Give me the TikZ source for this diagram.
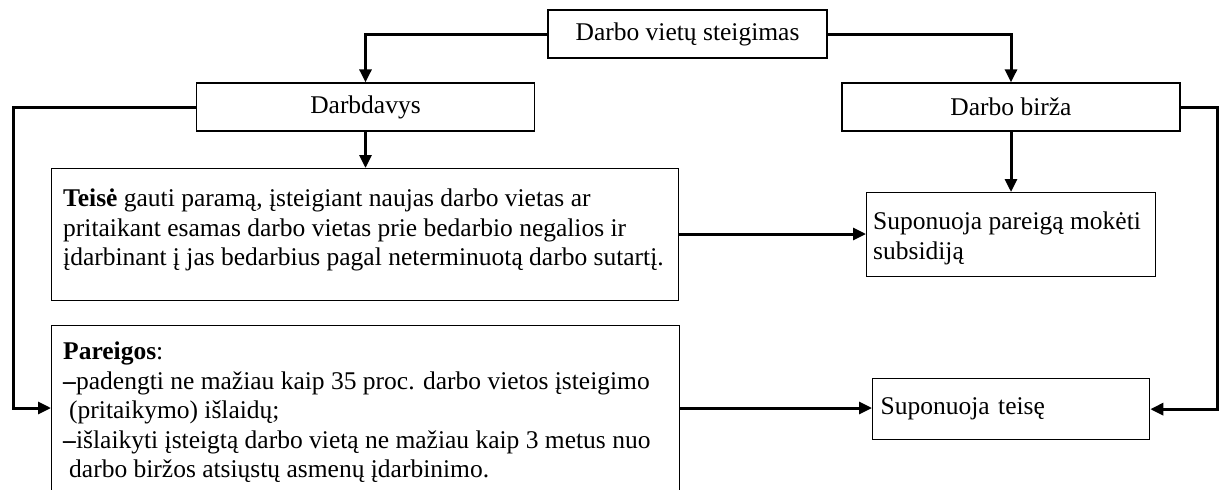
\documentclass[tikz,border=0pt]{standalone}
\usepackage{fontspec}
\setmainfont{Liberation Serif}
\usetikzlibrary{arrows.meta}
\begin{document}
\begin{tikzpicture}[x=1pt,y=-1pt,
  box/.style={draw, line width=1.3pt, rectangle, inner sep=0pt},
  conn/.style={line width=3pt},
  arr/.style={conn, -{Triangle[length=13pt,width=12pt]}},
  txt/.style={anchor=north west, inner sep=0pt, align=left},
  font=\fontsize{25.5}{29.5}\selectfont]
\useasboundingbox (0,0) rectangle (1219,490);
\coordinate (L) at (13,0);
\coordinate (R) at (1217,0);
\node[box, minimum width=279pt, minimum height=48pt] (top) at (687.5,34) {Darbo vietų steigimas};
\node[box, minimum width=338pt, minimum height=48pt] (dd) at (365.5,107) {Darbdavys};
\node[box, minimum width=338pt, minimum height=48pt] (db) at (1011,107) {Darbo birža};
\node[box, anchor=north west, minimum width=627pt, minimum height=132pt] (teise) at (51,168) {};
\node[txt] (teisetext) at (63,189)
  {\textbf{Teisė} gauti paramą, įsteigiant naujas darbo vietas ar\\
   pritaikant esamas darbo vietas prie bedarbio negalios ir\\
   įdarbinant į jas bedarbius pagal neterminuotą darbo sutartį.};
\node[box, anchor=north west, minimum width=289pt, minimum height=84pt] (sp) at (866,192) {};
\node[txt] (sptext) at (873,212) {Suponuoja pareigą mokėti\\subsidiją};
\node[box, anchor=north west, minimum width=277pt, minimum height=61pt, text width=261pt, inner xsep=8pt, align=left] (st) at (872,378)
  {Suponuoja teisę};
\node[box, anchor=north west, minimum width=628pt, minimum height=200pt] (par) at (51,325) {};
\node[txt] (partext) at (63,342)
  {\textbf{Pareigos}:\\
   \textbf{–}padengti ne mažiau kaip 35 proc. darbo vietos įsteigimo\\
   \hspace*{6pt}(pritaikymo) išlaidų;\\
   \textbf{–}išlaikyti įsteigtą darbo vietą ne mažiau kaip 3 metus nuo\\
   \hspace*{6pt}darbo biržos atsiųstų asmenų įdarbinimo.};
\coordinate (parin) at ([yshift=-83pt]par.north west);
\coordinate (parout) at ([yshift=-83pt]par.north east);
\draw[arr] (top.west) -| (dd.north);
\draw[arr] (top.east) -| (db.north);
\draw[arr] (dd.south) -- (teise.north -| dd.south);
\draw[arr] (db.south) -- (sp.north -| db.south);
\draw[arr] (dd.west) -- (dd.west -| L) |- (parin);
\draw[arr] (db.east) -- (db.east -| R) |- (st.east);
\draw[arr] ([yshift=-66pt]teise.north east) -- ([yshift=-66pt]teise.north east -| sp.west);
\draw[arr] (parout) -- (parout -| st.west);
\end{tikzpicture}
\end{document}
